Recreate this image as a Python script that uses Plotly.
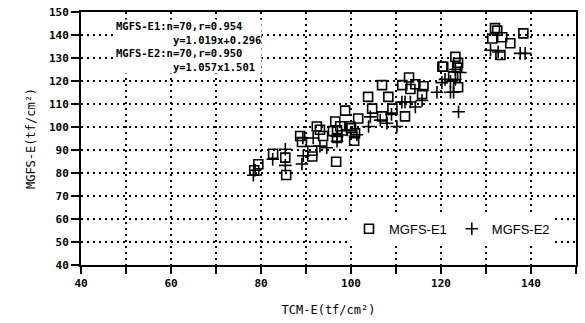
import plotly.graph_objects as go

# MGFS-E1 (open squares): TCM-E vs MGFS-E
e1_x = [78.5, 79.4, 82.7, 85.4, 85.6, 88.7, 89.1, 91.4, 96.7, 92.4, 93.1, 96.0, 97.6, 99.8,
        100.9, 93.8, 96.9, 91.4, 96.5, 96.9, 98.7, 100.0, 101.6, 100.7, 103.8, 104.7, 106.9,
        106.9, 108.3, 109.2, 111.4, 112.0, 112.9, 113.2, 114.3, 116.1, 115.8, 120.3, 123.6,
        123.8, 132.5, 131.4, 133.6, 135.4, 133.2, 138.3, 123.2, 120.5, 123.8, 122.7, 132.0]
e1_y = [81.2, 83.8, 88.4, 86.7, 79.1, 96.1, 93.5, 87.2, 84.9, 100.2, 98.8, 98.2, 100.3, 100.3,
        97.3, 96.1, 95.2, 89.7, 102.4, 98.6, 107.1, 99.5, 103.7, 94.0, 113.1, 108.0, 104.6,
        118.2, 113.1, 108.0, 118.2, 104.6, 121.5, 116.5, 118.6, 117.7, 114.3, 126.2, 125.8,
        117.3, 141.9, 138.5, 139.0, 136.4, 131.3, 140.7, 130.5, 126.2, 127.9, 122.0, 143.0]

# MGFS-E2 (crosses)
e2_x = [78.3, 78.7, 82.6, 85.4, 85.4, 89.3, 89.1, 89.4, 93.1, 94.6, 91.6, 96.9, 99.1, 96.9,
        101.3, 104.3, 103.9, 108.0, 110.2, 111.3, 112.0, 113.2, 114.3, 115.8, 119.1, 122.1,
        123.9, 120.9, 123.2, 131.0, 132.7, 137.6, 138.7, 120.2, 122.1, 122.8, 123.2, 124.3,
        98.0, 106.5, 109.0]
e2_y = [79.0, 81.2, 86.0, 90.3, 83.3, 95.2, 83.9, 87.5, 91.7, 91.0, 95.2, 95.9, 98.7, 93.8,
        96.6, 104.4, 100.2, 101.6, 100.2, 110.8, 110.9, 110.9, 108.7, 111.5, 115.1, 115.1,
        106.6, 120.7, 120.7, 133.4, 132.6, 132.0, 132.0, 119.3, 119.9, 115.1, 125.0, 123.7,
        96.5, 103.0, 105.5]

x_ticks = [40, 60, 80, 100, 120, 140]
y_ticks = [40, 50, 60, 70, 80, 90, 100, 110, 120, 130, 140, 150]

stat_lines = ["MGFS-E1:n=70,r=0.954",
              "\u00a0" * 9 + "y=1.019x+0.296",
              "MGFS-E2:n=70,r=0.950",
              "\u00a0" * 9 + "y=1.057x1.501"]

fig = go.Figure()
fig.add_trace(go.Scatter(x=e1_x, y=e1_y, mode="markers", name="MGFS-E1",
                         marker=dict(symbol="square-open", size=9, color="black",
                                     line=dict(width=1.6, color="black"))))
fig.add_trace(go.Scatter(x=e2_x, y=e2_y, mode="markers", name="MGFS-E2",
                         marker=dict(symbol="cross-thin-open", size=9, color="black",
                                     line=dict(width=1.6, color="black"))))

tickfont = dict(family="DejaVu Sans Mono", size=11, color="black", weight="bold")
titlefont = dict(family="DejaVu Sans Mono", size=12, color="black")
grid = dict(showgrid=True, gridcolor="rgb(0,0,0)", griddash="2px,4px", gridwidth=1.5)

fig.update_xaxes(range=[40, 150], tickvals=x_ticks, ticks="outside", ticklen=7,
                 tickwidth=1.5, tickcolor="black", tickfont=tickfont,
                 showline=True, linewidth=2, linecolor="black", mirror=True,
                 minor=dict(dtick=10, tick0=40, ticks="outside", ticklen=7,
                            tickwidth=1.5, tickcolor="black", **grid),
                 zeroline=False,
                 title=dict(text="TCM-E(tf/cm²)", font=titlefont, standoff=16),
                 **grid)
fig.update_yaxes(range=[40, 150], tickvals=y_ticks, ticks="outside", ticklen=8,
                 tickwidth=1.5, tickcolor="black", tickfont=tickfont,
                 showline=True, linewidth=2, linecolor="black", mirror=True,
                 zeroline=False,
                 title=dict(text="MGFS-E(tf/cm²)", font=titlefont, standoff=11),
                 **grid)

W, H = 585, 323
L, R, T, B = 81, 9, 6, 58
fig.add_annotation(text="<br>".join(stat_lines), xref="paper", yref="paper",
                   x=(115 - L) / (W - L - R), y=1 - (13 - T) / (H - T - B),
                   xanchor="left", yanchor="top", align="left", showarrow=False,
                   font=dict(family="DejaVu Sans Mono", size=10.5, color="black",
                             weight="bold"),
                   bgcolor="white", borderpad=0)

fig.update_layout(width=W, height=H, margin=dict(l=L, r=R, t=T, b=B),
                  paper_bgcolor="white", plot_bgcolor="white",
                  legend=dict(orientation="h", x=(349 - L) / (W - L - R),
                              y=(265 - 228) / (H - T - B), xanchor="left",
                              yanchor="middle", bgcolor="white",
                              font=dict(family="Liberation Sans", size=13, color="black"),
                              itemwidth=30, tracegroupgap=0),
                  showlegend=True)

fig.write_html("out.html")
